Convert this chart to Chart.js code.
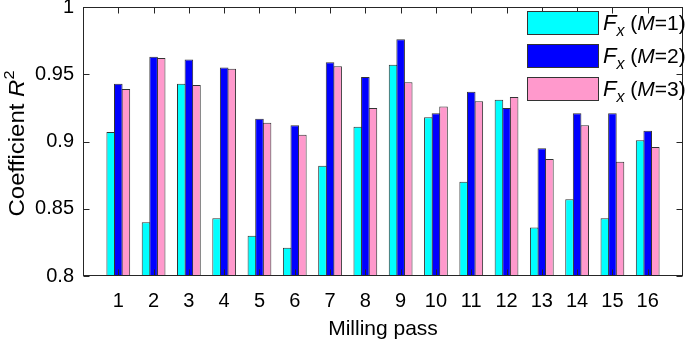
<!DOCTYPE html>
<html>
<head>
<meta charset="utf-8">
<script src="https://cdn.jsdelivr.net/npm/chart.js@4.4.1/dist/chart.umd.min.js"></script>
<style>
  html, body { margin: 0; padding: 0; background: #fff; }
  #wrap { width: 685px; height: 342px; }
</style>
</head>
<body>
<div id="wrap"><canvas id="chart"></canvas></div>
<script>
const passes = ['1', '2', '3', '4', '5', '6', '7', '8', '9', '10', '11', '12', '13', '14', '15', '16'];
const fxM1 = [0.907, 0.840, 0.943, 0.843, 0.830, 0.821, 0.882, 0.911, 0.957, 0.918, 0.870, 0.931, 0.836, 0.857, 0.843, 0.901];
const fxM2 = [0.943, 0.963, 0.961, 0.955, 0.917, 0.912, 0.959, 0.948, 0.976, 0.921, 0.937, 0.925, 0.895, 0.921, 0.921, 0.908];
const fxM3 = [0.939, 0.962, 0.942, 0.954, 0.914, 0.905, 0.956, 0.925, 0.944, 0.926, 0.930, 0.933, 0.887, 0.912, 0.885, 0.896];
const yTicks = [0.8, 0.85, 0.9, 0.95, 1];
const seriesM = ['1', '2', '3'];

const axisColor = '#262626';
const FONT = 'Liberation Sans, Arial, Helvetica, sans-serif';

// xlim is [0, 17] in the original, so pad one empty slot each side
const labels = ['', ...passes, ''];
const pad = arr => [null, ...arr, null];

// box, inward ticks, y title and legend with italic/sub/superscript parts
const matlabAxes = {
  id: 'matlabAxes',
  afterDraw(chart) {
    const ctx = chart.ctx;
    const { left, right, top, bottom } = chart.chartArea;
    const xs = chart.scales.x, ys = chart.scales.y;
    const tl = 6;

    ctx.save();
    ctx.strokeStyle = axisColor;
    ctx.lineWidth = 1;
    const L = Math.round(left) + 0.5, R = Math.round(right) - 0.5;
    const T = Math.round(top) + 0.5, B = Math.round(bottom) - 0.5;
    ctx.strokeRect(L, T, R - L, B - T);

    ctx.beginPath();
    passes.forEach((p, i) => {
      const px = Math.round(xs.getPixelForValue(i + 1)) + 0.5;
      ctx.moveTo(px, B); ctx.lineTo(px, B - tl);
      ctx.moveTo(px, T); ctx.lineTo(px, T + tl);
    });
    yTicks.forEach(v => {
      const py = Math.round(ys.getPixelForValue(v)) + 0.5;
      ctx.moveTo(L, py); ctx.lineTo(L + tl, py);
      ctx.moveTo(R, py); ctx.lineTo(R - tl, py);
    });
    ctx.stroke();

    // y title: Coefficient R^2 (original glyphs run a bit wider)
    ctx.fillStyle = '#000';
    ctx.textBaseline = 'alphabetic';
    ctx.textAlign = 'left';
    const parts = [
      { t: 'Coefficient ', f: '22px ' + FONT, dy: 0 },
      { t: 'R', f: 'italic 22px ' + FONT, dy: 0 },
      { t: '2', f: '15px ' + FONT, dy: -10 }
    ];
    let w = 0;
    parts.forEach(p => { ctx.font = p.f; p.w = ctx.measureText(p.t).width; w += p.w; });
    const stretch = 146 / w;
    ctx.save();
    ctx.translate(24, (top + bottom) / 2 + 2);
    ctx.rotate(-Math.PI / 2);
    ctx.scale(stretch, 1);
    let cx = -w / 2;
    parts.forEach(p => { ctx.font = p.f; ctx.fillText(p.t, cx, p.dy); cx += p.w; });
    ctx.restore();

    // legend
    chart.data.datasets.forEach((ds, i) => {
      const y0 = Math.round(11 + i * 32.8);
      ctx.fillStyle = ds.backgroundColor;
      ctx.fillRect(527, y0, 71, 23);
      ctx.strokeStyle = '#333';
      ctx.strokeRect(527.5, y0 + 0.5, 71, 23);
      ctx.fillStyle = '#000';
      const base = y0 + 19;
      const seg = [
        { t: 'F', f: 'italic 22px ' + FONT, dy: 0 },
        { t: 'x', f: 'italic 16px ' + FONT, dy: 6 },
        { t: ' (', f: '21px ' + FONT, dy: 0 },
        { t: 'M', f: 'italic 21px ' + FONT, dy: 0 },
        { t: '=' + seriesM[i] + ')', f: '21px ' + FONT, dy: 0 }
      ];
      let tx = 603;
      seg.forEach(s => {
        ctx.font = s.f;
        ctx.fillText(s.t, tx, base + s.dy);
        tx += ctx.measureText(s.t).width;
      });
    });
    ctx.restore();
  }
};

new Chart(document.getElementById('chart'), {
  type: 'bar',
  data: {
    labels: labels,
    datasets: [
      { label: 'Fx (M=1)', data: pad(fxM1), backgroundColor: '#00ffff' },
      { label: 'Fx (M=2)', data: pad(fxM2), backgroundColor: '#0000ff' },
      { label: 'Fx (M=3)', data: pad(fxM3), backgroundColor: '#ff99cc' }
    ]
  },
  options: {
    responsive: true,
    maintainAspectRatio: false,
    animation: false,
    layout: { padding: { top: 7, right: 2, left: 0, bottom: 0 } },
    datasets: {
      bar: {
        borderColor: '#333',
        borderWidth: 1,
        borderSkipped: false,
        categoryPercentage: 0.645,
        barPercentage: 1.13   // slight overlap so neighbours share one edge
      }
    },
    plugins: {
      legend: { display: false },
      tooltip: { enabled: false }
    },
    scales: {
      x: {
        offset: false,
        grid: { display: false, drawTicks: false },
        border: { display: false },
        ticks: {
          autoSkip: false,
          maxRotation: 0,
          padding: 13,
          color: '#000',
          font: { family: FONT, size: 20 }
        },
        title: {
          display: true,
          text: 'Milling pass',
          color: '#000',
          padding: 0,
          font: { family: FONT, size: 21 }
        },
        afterFit(scale) {
          scale.height = 66;
          scale.paddingLeft = 0;
          scale.paddingRight = 0;
        }
      },
      y: {
        min: 0.8,
        max: 1,
        grid: { display: false, drawTicks: false },
        border: { display: false },
        afterBuildTicks(scale) {
          scale.ticks = yTicks.map(v => ({ value: v }));
        },
        ticks: {
          padding: 9,
          color: '#000',
          font: { family: FONT, size: 20 },
          callback: v => String(v)
        },
        afterFit(scale) {
          scale.width = 83;
          scale.paddingTop = 0;
          scale.paddingBottom = 0;
        }
      }
    }
  },
  plugins: [matlabAxes]
});
</script>
</body>
</html>
